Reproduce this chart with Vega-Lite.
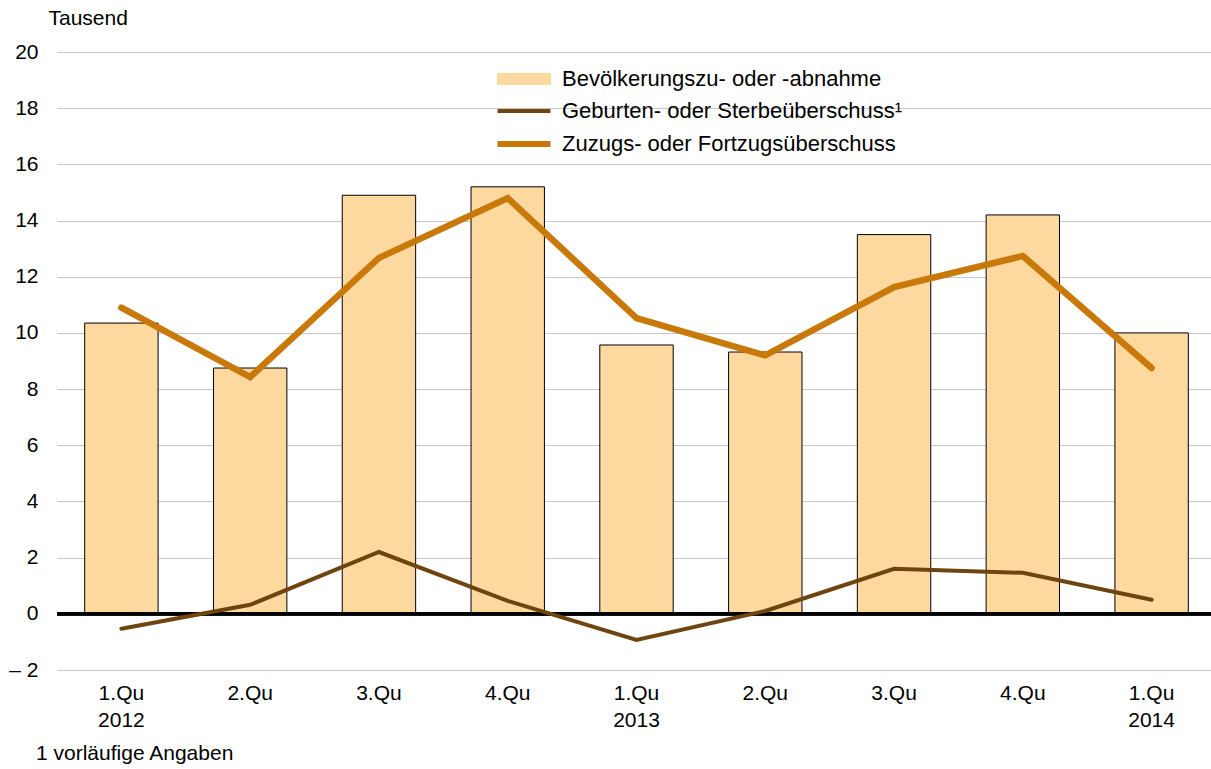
{
  "$schema": "https://vega.github.io/schema/vega-lite/v6.json",
  "width": 1159,
  "height": 618,
  "autosize": {"type": "none"},
  "padding": {"left": 57, "top": 52, "right": 0, "bottom": 99},
  "background": "white",
  "config": {
    "font": "Liberation Sans",
    "view": {"stroke": null},
    "axis": {"labelColor": "#000", "labelFontSize": 21, "labelFont": "Liberation Sans"}
  },
  "title": {
    "text": "1 vorläufige Angaben",
    "orient": "bottom",
    "anchor": "start",
    "frame": "group",
    "fontSize": 21,
    "fontWeight": "normal",
    "color": "#000",
    "font": "Liberation Sans",
    "dx": -21,
    "offset": 13
  },
  "data": {
    "values": [
      {"periode": "1.Qu 2012", "bevoelkerung": 10.35, "geburten": -0.53, "zuzug": 10.9},
      {"periode": "2.Qu 2012", "bevoelkerung": 8.75, "geburten": 0.32, "zuzug": 8.43},
      {"periode": "3.Qu 2012", "bevoelkerung": 14.9, "geburten": 2.2, "zuzug": 12.67},
      {"periode": "4.Qu 2012", "bevoelkerung": 15.2, "geburten": 0.46, "zuzug": 14.8},
      {"periode": "1.Qu 2013", "bevoelkerung": 9.57, "geburten": -0.93, "zuzug": 10.53},
      {"periode": "2.Qu 2013", "bevoelkerung": 9.32, "geburten": 0.1, "zuzug": 9.2},
      {"periode": "3.Qu 2013", "bevoelkerung": 13.5, "geburten": 1.6, "zuzug": 11.63},
      {"periode": "4.Qu 2013", "bevoelkerung": 14.2, "geburten": 1.46, "zuzug": 12.74},
      {"periode": "1.Qu 2014", "bevoelkerung": 10.0, "geburten": 0.5, "zuzug": 8.75}
    ]
  },
  "encoding": {
    "x": {
      "field": "periode",
      "type": "ordinal",
      "sort": null,
      "scale": {"paddingInner": 0.43, "paddingOuter": 0.215},
      "axis": {
        "title": null,
        "labelAngle": 0,
        "domain": false,
        "ticks": false,
        "labelPadding": 12,
        "labelLineHeight": 27,
        "labelExpr": "indexof(datum.label, '1.Qu') == 0 ? split(datum.label, ' ') : split(datum.label, ' ')[0]"
      }
    }
  },
  "layer": [
    {
      "mark": {"type": "bar", "stroke": "#000", "strokeWidth": 1},
      "encoding": {
        "y": {
          "field": "bevoelkerung",
          "type": "quantitative",
          "scale": {"domain": [-2, 20], "nice": false},
          "axis": {
            "values": [-2, 0, 2, 4, 6, 8, 10, 12, 14, 16, 18, 20],
            "domain": false,
            "ticks": false,
            "grid": true,
            "gridColor": "#c8c8c8",
            "gridWidth": 1,
            "labelPadding": 19,
            "labelExpr": "datum.value < 0 ? '– ' + abs(datum.value) : datum.label",
            "title": "Tausend",
            "titleAngle": 0,
            "titleAlign": "left",
            "titleBaseline": "middle",
            "titleX": -9,
            "titleY": -34,
            "titleFontSize": 21,
            "titleFontWeight": "normal",
            "titleColor": "#000",
            "titleFont": "Liberation Sans"
          }
        },
        "color": {
          "datum": "Bevölkerungszu- oder -abnahme",
          "type": "nominal",
          "scale": {
            "domain": ["Bevölkerungszu- oder -abnahme", "Geburten- oder Sterbeüberschuss¹", "Zuzugs- oder Fortzugsüberschuss"],
            "range": ["#fdd9a0", "#6e4510", "#c8790a"]
          },
          "legend": {
            "orient": "none",
            "legendX": 456,
            "legendY": 16,
            "title": null,
            "padding": 0,
            "labelFontSize": 22,
            "labelColor": "#000",
            "labelFont": "Liberation Sans",
            "labelLimit": 0,
            "labelOffset": 27,
            "rowPadding": 10,
            "symbolSize": 400,
            "symbolType": {"expr": "datum.index == 0 ? 'M-2.65,-0.55H2.65V0.55H-2.65Z' : 'M-2.65,0H2.65'"},
            "symbolStrokeWidth": {"expr": "datum.index == 0 ? 1 : (datum.index == 1 ? 4 : 6)"},
            "symbolOpacity": 1
          }
        }
      }
    },
    {
      "mark": {"type": "rule", "color": "#000", "strokeWidth": 3},
      "encoding": {"y": {"datum": 0}, "x": {"value": 0}, "x2": {"value": 1159}}
    },
    {
      "mark": {"type": "line", "strokeWidth": 4, "strokeCap": "round"},
      "encoding": {
        "y": {"field": "geburten", "type": "quantitative"},
        "color": {"datum": "Geburten- oder Sterbeüberschuss¹", "type": "nominal"}
      }
    },
    {
      "mark": {"type": "line", "strokeWidth": 6.5, "strokeCap": "round"},
      "encoding": {
        "y": {"field": "zuzug", "type": "quantitative"},
        "color": {"datum": "Zuzugs- oder Fortzugsüberschuss", "type": "nominal"}
      }
    }
  ]
}
